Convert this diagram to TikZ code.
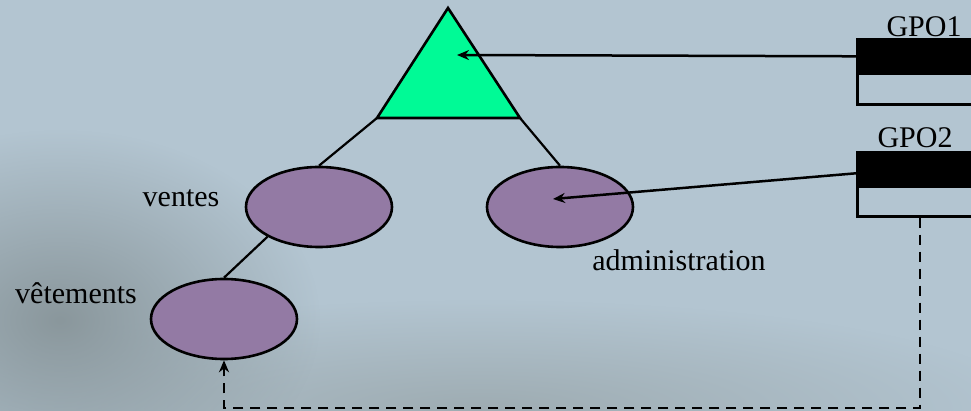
\documentclass[tikz,border=0pt]{standalone}
\usepackage{fontspec}
\setmainfont{Liberation Serif}
\usetikzlibrary{arrows.meta,calc,shapes.geometric,fadings}
\tikzfading[name=blobfade, inner color=transparent!0, outer color=transparent!100]
\definecolor{bgbase}{HTML}{B3C5D1}
\definecolor{bgdark}{HTML}{8A979C}
\definecolor{bgmid}{HTML}{9EACB2}
\definecolor{trigreen}{HTML}{00FA96}
\definecolor{ouPurple}{HTML}{937AA4}
\begin{document}
\begin{tikzpicture}[x=1pt,y=-1pt,
  ou/.style={ellipse,draw=black,line width=2.6pt,fill=ouPurple,minimum width=146pt,minimum height=80pt,inner sep=0pt},
  lbl/.style={font=\fontsize{30}{30}\selectfont,anchor=base,inner sep=0pt},
  link/.style={line width=2.2pt},
  ptr/.style={line width=2.5pt,-{Stealth[length=12pt,width=10pt]}},
  band/.style={fill=black,draw=black,line width=2.6pt,minimum width=130pt,minimum height=34pt,inner sep=0pt,anchor=north west},
  lowerbox/.style={draw=black,line width=2.6pt,minimum width=130pt,minimum height=31pt,inner sep=0pt,anchor=north west},
  dashlink/.style={line width=2.5pt,dash pattern=on 10pt off 7pt,-{Stealth[length=12pt,width=10pt]}}]
\useasboundingbox (0,0) rectangle (971,411);
\fill[bgbase] (0,0) rectangle (971,411);
\fill[bgmid, path fading=blobfade] (480,410) ellipse [x radius=560pt, y radius=110pt];
\fill[bgdark, path fading=blobfade] (60,320) ellipse [x radius=260pt, y radius=190pt];
% triangle
\coordinate (apex) at (448,8);
\coordinate (bl) at (377,118);
\coordinate (br) at (520,118);
\filldraw[fill=trigreen, line width=2.6pt] (apex) -- (br) -- (bl) -- cycle;
\coordinate (t1) at (457,55);
% ellipses
\node[ou] (ventes) at (319,207) {};
\node[ou] (admin) at (560,207) {};
\node[ou] (vet) at (224,319) {};
\draw[link] (bl) -- (ventes.north);
\draw[link] (br) -- (admin.north);
\draw[link] (ventes.-150) -- (vet.north);
% labels
\node[lbl] (lv) at (181,207) {ventes};
\node[lbl] (la) at (679,271) {administration};
\node[lbl] (lt) at (76,304) {vêtements};
\node[lbl] (lg1) at (924,37) {GPO1};
\node[lbl] (lg2) at (915,148) {GPO2};
% GPO boxes
\node[band] (g1a) at (856,38) {};
\node[lowerbox] (g1b) at (856,72) {};
\node[band] (g2a) at (856,151) {};
\node[lowerbox] (g2b) at (856,184) {};
% arrows
\draw[ptr] (g1a.west) -- (t1);
\coordinate (t2) at (553,199);
\draw[ptr] ($(g2a.west)+(0,4)$) -- (t2);
\coordinate (d0) at ($(g2b.south west)+(64,0)$);
\coordinate (bot) at (0,408);
\draw[dashlink] (d0) -- (d0 |- bot) -- (vet.south |- bot) -- (vet.south);
\end{tikzpicture}
\end{document}
